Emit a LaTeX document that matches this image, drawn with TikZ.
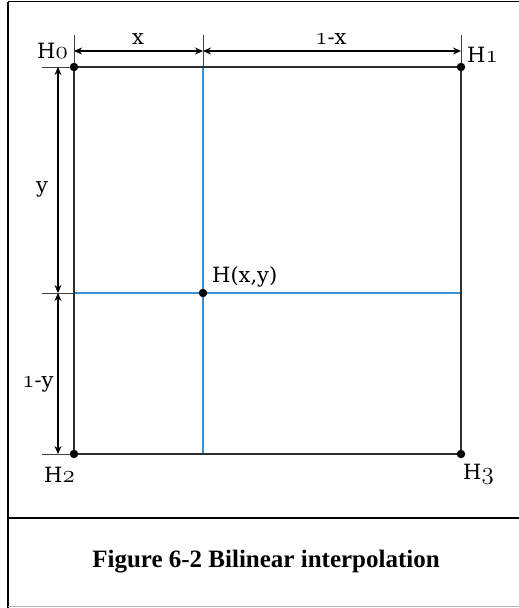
\documentclass[tikz,border=0pt]{standalone}
\usepackage{fontspec}
\newfontfamily\capfont{Liberation Serif}
\newfontfamily\lblfont{DejaVu Serif}
\usetikzlibrary{arrows.meta}
\newcommand\osn[1]{{\fontsize{23}{26}\usefont{OML}{lmm}{m}{it}#1}}
\definecolor{gridblue}{HTML}{3A8FD3}
\definecolor{sqgray}{HTML}{2E2E2E}
\tikzset{
  frame/.style={line width=1.5pt,black},
  sqline/.style={line width=2.4pt,sqgray},
  blueline/.style={line width=2.2pt,gridblue},
  dimline/.style={line width=1.6pt,black,{Stealth[length=8pt,width=7pt]}-{Stealth[length=8pt,width=7pt]}},
  extline/.style={line width=1pt,black!75},
  pt/.style={circle,fill=black,inner sep=0pt,minimum size=8.5pt},
  lbl/.style={inner sep=0pt,font=\lblfont\fontsize{21}{26}\selectfont},
}
\begin{document}
\begin{tikzpicture}[x=1pt,y=-1pt]
\useasboundingbox (0,0) rectangle (519,608);
% frame
\draw[frame] (8,1.5) -- (530,1.5);
\draw[frame] (8,1.5) -- (8,608);
\draw[frame] (8,518) -- (530,518);
\draw[line width=1.2pt,black!30] (8,606.8) -- (519,606.8);
% corners
\coordinate (c0) at (74,67);
\coordinate (c1) at (461,67);
\coordinate (c2) at (74,454);
\coordinate (c3) at (461,454);
\coordinate (hxy) at (203,293);
\coordinate (bt) at (203,67);
\coordinate (bb) at (203,454);
\coordinate (bl) at (74,293);
\coordinate (br) at (461,293);
% extension ticks
\coordinate (t0) at (74,35);
\coordinate (t1) at (203,35);
\coordinate (t2) at (461,35);
\coordinate (l0) at (42,67);
\coordinate (l1) at (42,293);
\coordinate (l2) at (42,454);
\draw[extline] (t0) -- (c0);
\draw[extline] (t1) -- (bt);
\draw[extline] (t2) -- (c1);
\draw[extline] (l0) -- (c0);
\draw[extline] (l1) -- (bl);
\draw[extline] (l2) -- (c2);
% blue lines
\draw[blueline] (bt) -- (bb);
\draw[blueline] (bl) -- (br);
% square
\draw[sqline] (c0) -- (c1) -- (c3) -- (c2) -- cycle;
% dimension arrows
\coordinate (d0) at (74,51);
\coordinate (d1) at (203,51);
\coordinate (d2) at (461,51);
\coordinate (e0) at (58,67);
\coordinate (e1) at (58,293);
\coordinate (e2) at (58,454);
\draw[dimline] (d0) -- (d1);
\draw[dimline] (d1) -- (d2);
\draw[dimline] (e0) -- (e1);
\draw[dimline] (e1) -- (e2);
% points
\node[pt] (p0) at (c0) {};
\node[pt] (p1) at (c1) {};
\node[pt] (p2) at (c2) {};
\node[pt] (p3) at (c3) {};
\node[pt] (ph) at (hxy) {};
% labels
\node[lbl,anchor=base west] (lh0) at (37,58) {H\osn{0}};
\node[lbl,anchor=base] (lx) at (138,44) {x};
\node[lbl,anchor=base] (l1x) at (331,44) {\osn{1}-x};
\node[lbl,anchor=base west] (lh1) at (467,62) {H\osn{1}};
\node[lbl,anchor=base] (ly) at (42,192) {y};
\node[lbl,anchor=base] (l1y) at (38,387) {\osn{1}-y};
\node[lbl,anchor=base west] (lhxy) at (212,282) {H(x,y)};
\node[lbl,anchor=base west] (lh2) at (44,482) {H\osn{2}};
\node[lbl,anchor=base west] (lh3) at (463,479) {H\osn{3}};
% caption
\node[inner sep=0pt,anchor=base,font=\capfont\bfseries\fontsize{25}{30}\selectfont] (cap) at (266,567) {Figure 6-2 Bilinear interpolation};
\end{tikzpicture}
\end{document}
